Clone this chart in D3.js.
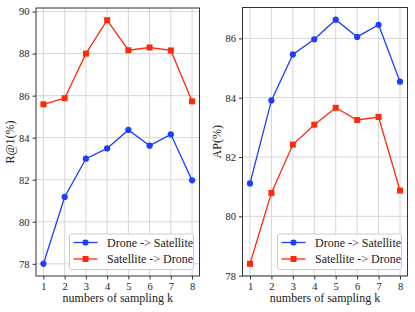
<!DOCTYPE html>
<html>
<head>
<meta charset="utf-8">
<script src="https://cdn.jsdelivr.net/npm/d3@7"></script>
<style>
  body { margin: 0; background: #fff; }
  svg text { font-family: "Liberation Serif", "DejaVu Serif", serif; fill: #222; }
</style>
</head>
<body>
<svg id="chart" width="415" height="312"></svg>
<script>
// sampling k
const kValues = [1, 2, 3, 4, 5, 6, 7, 8]

// left panel: R@1
const r1DroneToSat = [78.0, 81.18, 83.0, 83.49, 84.37, 83.62, 84.16, 81.97]
const r1SatToDrone = [85.59, 85.88, 88.0, 89.59, 88.16, 88.29, 88.15, 85.73]
const r1Ticks = [78, 80, 82, 84, 86, 88, 90]

// right panel: AP
const apDroneToSat = [81.11, 83.91, 85.46, 85.97, 86.63, 86.05, 86.46, 84.54]
const apSatToDrone = [78.4, 80.79, 82.42, 83.09, 83.66, 83.25, 83.35, 80.87]
const apTicks = [78, 80, 82, 84, 86]

const seriesNames = ['Drone -> Satellite', 'Satellite -> Drone']
const blue = '#1a40ff'
const red = '#ff2a0a'

const svg = d3.select('#chart')

function panel(opts) {
  const { left, right, top, bottom, blueVals, redVals, ticks, label, legendX } = opts
  const all = blueVals.concat(redVals)
  const lo = d3.min(all), hi = d3.max(all)
  const pad = (hi - lo) * 0.05

  const x = d3.scaleLinear().domain([0.65, 8.35]).range([left, right])
  const y = d3.scaleLinear().domain([lo - pad, hi + pad]).range([bottom, top])

  const g = svg.append('g')

  // grid
  g.selectAll('.gx').data(kValues).join('line')
    .attr('x1', d => x(d)).attr('x2', d => x(d))
    .attr('y1', top).attr('y2', bottom)
    .attr('stroke', '#d6d6d6').attr('stroke-width', 1)
  g.selectAll('.gy').data(ticks).join('line')
    .attr('y1', d => y(d)).attr('y2', d => y(d))
    .attr('x1', left).attr('x2', right)
    .attr('stroke', '#d6d6d6').attr('stroke-width', 1)

  const xAxis = d3.axisBottom(x).tickValues(kValues).tickSize(3.5).tickPadding(3)
  const yAxis = d3.axisLeft(y).tickValues(ticks).tickSize(3.5).tickPadding(3)

  const ax = g.append('g').attr('transform', `translate(0,${bottom})`).call(xAxis)
  const ay = g.append('g').attr('transform', `translate(${left},0)`).call(yAxis)
  ;[ax, ay].forEach(a => {
    a.select('.domain').remove()
    a.selectAll('line').attr('stroke', '#333')
    a.selectAll('text').attr('font-size', 10.5).attr('font-family', '"Liberation Serif", serif').attr('fill', '#222')
  })

  // frame
  g.append('rect')
    .attr('x', left).attr('y', top)
    .attr('width', right - left).attr('height', bottom - top)
    .attr('fill', 'none').attr('stroke', '#333').attr('stroke-width', 1)

  const line = d3.line().x((d, i) => x(kValues[i])).y(d => y(d))

  g.append('path').datum(blueVals).attr('d', line)
    .attr('fill', 'none').attr('stroke', blue).attr('stroke-width', 1.3)
  g.append('path').datum(redVals).attr('d', line)
    .attr('fill', 'none').attr('stroke', red).attr('stroke-width', 1.3)

  g.selectAll('.mb').data(blueVals).join('circle')
    .attr('cx', (d, i) => x(kValues[i])).attr('cy', d => y(d))
    .attr('r', 3.1).attr('fill', blue)
  g.selectAll('.mr').data(redVals).join('rect')
    .attr('x', (d, i) => x(kValues[i]) - 3).attr('y', d => y(d) - 3)
    .attr('width', 6).attr('height', 6).attr('fill', red)

  // axis labels
  g.append('text')
    .attr('x', (left + right) / 2).attr('y', bottom + 26)
    .attr('text-anchor', 'middle').attr('font-size', 12)
    .text('numbers of sampling k')
  g.append('text')
    .attr('transform', `translate(${left - 22},${(top + bottom) / 2}) rotate(-90)`)
    .attr('text-anchor', 'middle').attr('font-size', 12)
    .text(label)

  // legend
  const lg = g.append('g').attr('transform', `translate(${legendX},234)`)
  lg.append('rect')
    .attr('width', right - 6 - legendX).attr('height', 35.5).attr('rx', 2)
    .attr('fill', 'rgba(255,255,255,0.85)').attr('stroke', '#ccc').attr('stroke-width', 1)
  seriesNames.forEach((name, i) => {
    const cy = 8.5 + i * 16.5
    const c = i === 0 ? blue : red
    lg.append('line').attr('x1', 4).attr('x2', 28).attr('y1', cy).attr('y2', cy)
      .attr('stroke', c).attr('stroke-width', 1.3)
    if (i === 0) {
      lg.append('circle').attr('cx', 16).attr('cy', cy).attr('r', 3.1).attr('fill', c)
    } else {
      lg.append('rect').attr('x', 13).attr('y', cy - 3).attr('width', 6).attr('height', 6).attr('fill', c)
    }
    lg.append('text').attr('x', 37.5).attr('y', cy + 4).attr('font-size', 12).text(name)
  })
}

panel({ left: 36, right: 199.5, top: 8, bottom: 276,
  blueVals: r1DroneToSat, redVals: r1SatToDrone, ticks: r1Ticks, label: 'R@1(%)', legendX: 69.5 })
panel({ left: 242.5, right: 407.5, top: 7.5, bottom: 276,
  blueVals: apDroneToSat, redVals: apSatToDrone, ticks: apTicks, label: 'AP(%)', legendX: 277.5 })
</script>
</body>
</html>
